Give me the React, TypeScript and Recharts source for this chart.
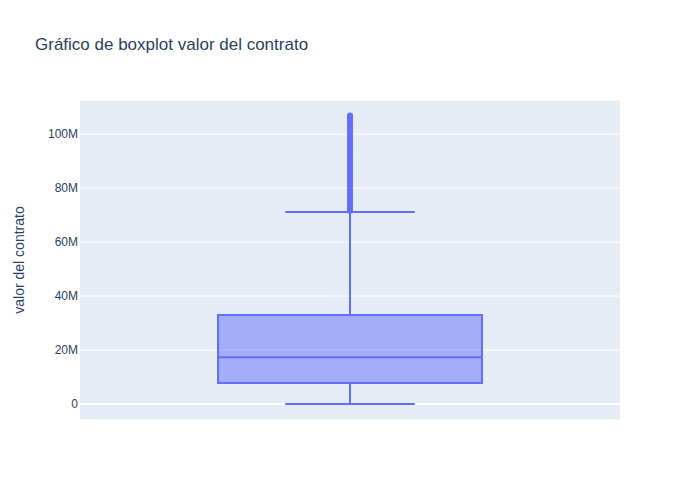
import React from "react";
import {
  ComposedChart,
  Scatter,
  XAxis,
  YAxis,
  CartesianGrid,
  ReferenceArea,
  ReferenceLine,
} from "recharts";

// box statistics (values in pesos)
const lowerFence = 0;
const q1 = 7.8e6;
const median = 17.3e6;
const q3 = 33.0e6;
const upperFence = 71.1e6;

// outliers above the upper fence
const outliers: number[] = [
  71.6e6, 72.2e6, 72.9e6, 73.5e6, 74.1e6, 74.8e6, 75.6e6, 76.3e6, 77.0e6, 77.9e6,
  78.6e6, 79.4e6, 80.3e6, 81.1e6, 82.0e6, 82.8e6, 83.7e6, 84.6e6, 85.5e6, 86.3e6,
  87.2e6, 88.1e6, 89.0e6, 89.9e6, 90.7e6, 91.6e6, 92.5e6, 93.4e6, 94.3e6, 95.2e6,
  96.0e6, 96.9e6, 97.8e6, 98.7e6, 99.6e6, 100.5e6, 101.3e6, 102.2e6, 103.1e6,
  104.0e6, 104.8e6, 105.6e6, 106.3e6, 106.9e6,
];

const yTicks = [0, 20e6, 40e6, 60e6, 80e6, 100e6];
const yDomain: [number, number] = [-5.9e6, 112.6e6];

const boxHalf = 0.2444;
const capHalf = 0.12;

const BLUE = "#636efa";
const INK = "#2a3f5f";
const FONT = '"Liberation Sans", Arial, sans-serif';

const outlierData = outliers.map((v) => ({ x: 0, y: v }));

const fmt = (v: number) => (v === 0 ? "0" : `${Math.round(v / 1e6)}M`);

const Dot = (props: any) => (
  <circle cx={props.cx} cy={props.cy} r={3} fill={BLUE} />
);

export default function App() {
  return (
    <div style={{ position: "fixed", left: 0, top: 0, width: 700, height: 500, background: "#fff", fontFamily: FONT }}>
      <div style={{ position: "absolute", left: 35, top: 36, fontSize: 17, lineHeight: "17px", color: INK, whiteSpace: "nowrap" }}>
        Gráfico de boxplot valor del contrato
      </div>
      <div
        style={{
          position: "absolute",
          left: 19,
          top: 260,
          transform: "translate(-50%, -50%) rotate(-90deg)",
          fontSize: 14,
          lineHeight: "14px",
          color: INK,
          whiteSpace: "nowrap",
        }}
      >
        valor del contrato
      </div>
      <ComposedChart width={700} height={500} margin={{ top: 100, right: 80, bottom: 80, left: 30 }}>
        <CartesianGrid vertical={false} stroke="#ffffff" strokeWidth={1} fill="#e5ecf6" />
        <XAxis type="number" dataKey="x" domain={[-0.5, 0.5]} hide allowDataOverflow />
        <YAxis
          type="number"
          dataKey="y"
          width={50}
          domain={yDomain}
          ticks={yTicks}
          allowDataOverflow
          axisLine={false}
          tickLine={false}
          tickSize={0}
          tickMargin={2}
          tickFormatter={fmt}
          tick={{ fill: INK, fontSize: 12, fontFamily: FONT }}
        />
        <ReferenceLine y={0} stroke="#ffffff" strokeWidth={2} />
        {/* whiskers */}
        <ReferenceLine segment={[{ x: 0, y: lowerFence }, { x: 0, y: q1 }]} stroke={BLUE} strokeWidth={2} />
        <ReferenceLine segment={[{ x: 0, y: q3 }, { x: 0, y: upperFence }]} stroke={BLUE} strokeWidth={2} />
        <ReferenceLine segment={[{ x: -capHalf, y: lowerFence }, { x: capHalf, y: lowerFence }]} stroke={BLUE} strokeWidth={2} />
        <ReferenceLine segment={[{ x: -capHalf, y: upperFence }, { x: capHalf, y: upperFence }]} stroke={BLUE} strokeWidth={2} />
        {/* box */}
        <ReferenceArea x1={-boxHalf} x2={boxHalf} y1={q1} y2={q3} fill={BLUE} fillOpacity={0.5} stroke={BLUE} strokeWidth={2} strokeOpacity={1} />
        <ReferenceLine segment={[{ x: -boxHalf, y: median }, { x: boxHalf, y: median }]} stroke={BLUE} strokeWidth={2} />
        <Scatter data={outlierData} dataKey="y" shape={<Dot />} isAnimationActive={false} />
      </ComposedChart>
    </div>
  );
}
